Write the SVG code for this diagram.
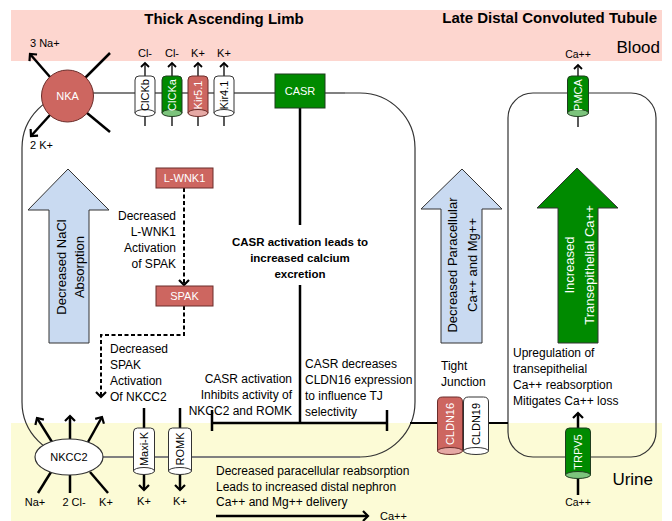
<svg xmlns="http://www.w3.org/2000/svg" width="672" height="521" viewBox="0 0 672 521">
<style>
text{font-family:"Liberation Sans",Arial,sans-serif;font-size:11px;fill:#000}
.body{font-size:12px}
.b{font-weight:bold;font-size:11.5px}
.w{fill:#fff}
.title{font-size:15px;font-weight:bold}
.big{font-size:17px}
.arrtxt{font-size:13px}
.cell{fill:none;stroke:#333;stroke-width:1.2}
.mem{stroke:#808080;stroke-width:1.8;fill:none}
.thk{stroke:#000;stroke-width:2.5;fill:none}
.thn{stroke:#000;stroke-width:1.3;fill:none}
.dash{stroke:#000;stroke-width:2;fill:none;stroke-dasharray:4 2.5}
.red{fill:#cd6660;stroke:#6b2d2a;stroke-width:1}
.grn{fill:#008a00;stroke:#1f3d1f;stroke-width:1}
.wht{fill:#fff;stroke:#333;stroke-width:1}
.redl{fill:#e6a9a5;stroke:#6b2d2a;stroke-width:1}
.grnl{fill:#7cc47c;stroke:#1f3d1f;stroke-width:1}
.blue{fill:#c9daf1;stroke:#333;stroke-width:1}
.garr{fill:#008a00;stroke:#333;stroke-width:1}
</style>
<defs>
<marker id="ah" viewBox="-7 -7 9 14" markerWidth="9" markerHeight="14" refX="0" refY="0" orient="auto" markerUnits="userSpaceOnUse">
<path d="M-5,-5 L0,0 L-5,5" fill="none" stroke="#000" stroke-width="2.2"/>
</marker>
<marker id="ahs" viewBox="-6 -6 8 12" markerWidth="8" markerHeight="12" refX="0" refY="0" orient="auto" markerUnits="userSpaceOnUse">
<path d="M-4,-4 L0,0 L-4,4" fill="none" stroke="#000" stroke-width="1.8"/>
</marker>
</defs>

<!-- background bands -->
<rect x="11" y="10" width="651" height="51" fill="#fdd6cf"/>
<rect x="11" y="423" width="651" height="98" fill="#fcfbd6"/>
<text class="title" x="224" y="24" text-anchor="middle">Thick Ascending Limb</text>
<text class="title" x="657" y="23" text-anchor="end">Late Distal Convoluted Tubule</text>
<text class="big" x="660" y="53" text-anchor="end">Blood</text>
<text class="big" x="653" y="485" text-anchor="end">Urine</text>

<!-- cells -->
<g id="tal-cell">
<rect class="cell" x="22" y="93" width="393" height="364" rx="55" ry="55"/>
<line class="mem" x1="93" y1="93" x2="345" y2="93"/>
<line class="mem" x1="103" y1="457" x2="360" y2="457"/>
</g>
<g id="dct-cell">
<rect class="cell" x="508" y="93" width="148" height="364" rx="25" ry="25"/>
</g>

<!-- big arrows -->
<g id="arrow-nacl">
<polygon class="blue" points="68,169 109,210 89,210 89,343 49,343 49,210 28,210"/>
<g transform="translate(70,267) rotate(-90)">
<text class="arrtxt" x="0" y="-4" text-anchor="middle">Decreased NaCl</text>
<text class="arrtxt" x="0" y="14" text-anchor="middle">Absorption</text>
</g>
</g>
<g id="arrow-paracellular">
<polygon class="blue" points="462,169 502,209 482,209 482,343 441,343 441,209 421,209"/>
<g transform="translate(462,265) rotate(-90)">
<text class="arrtxt" x="0" y="-5" text-anchor="middle">Decreased Paracellular</text>
<text class="arrtxt" x="0" y="15" text-anchor="middle">Ca++ and Mg++</text>
</g>
</g>
<g id="arrow-transepithelial">
<polygon class="garr" points="577,168 618,208 598,208 598,343 558,343 558,208 537,208"/>
<g transform="translate(579,265) rotate(-90)">
<text class="arrtxt w" x="0" y="-5" text-anchor="middle">Increased</text>
<text class="arrtxt w" x="0" y="15" text-anchor="middle">Transepithelial Ca++</text>
</g>
</g>

<!-- connectors -->
<g id="connectors">
<!-- NKA -->
<line class="thk" x1="50" y1="77" x2="30" y2="54" marker-end="url(#ah)"/>
<line class="thk" x1="85" y1="78" x2="110" y2="53"/>
<line class="thk" x1="87" y1="113" x2="110" y2="132"/>
<line class="thk" x1="50" y1="115" x2="31" y2="136" marker-end="url(#ah)"/>
<!-- top channels -->
<line class="thn" x1="145" y1="76" x2="145" y2="63" marker-end="url(#ahs)"/>
<line class="thn" x1="145" y1="116" x2="145" y2="126"/>
<line class="thn" x1="172" y1="76" x2="172" y2="63" marker-end="url(#ahs)"/>
<line class="thn" x1="172" y1="116" x2="172" y2="126"/>
<line class="thn" x1="198" y1="76" x2="198" y2="63" marker-end="url(#ahs)"/>
<line class="thn" x1="198" y1="116" x2="198" y2="126"/>
<line class="thn" x1="224" y1="76" x2="224" y2="63" marker-end="url(#ahs)"/>
<line class="thn" x1="224" y1="116" x2="224" y2="126"/>
<!-- PMCA -->
<line class="thn" x1="578" y1="76" x2="578" y2="65" marker-end="url(#ahs)"/>
<line class="thn" x1="578" y1="116" x2="578" y2="127"/>
<!-- CASR -->
<line class="thk" x1="300" y1="108" x2="300" y2="225"/>
<line class="thk" x1="300" y1="285" x2="300" y2="423"/>
<line class="thk" x1="212" y1="423" x2="387" y2="423"/>
<line class="thk" x1="212" y1="410" x2="212" y2="431"/>
<line class="thk" x1="387" y1="410" x2="387" y2="431"/>
<!-- WNK1 / SPAK -->
<line class="dash" x1="184" y1="188" x2="184" y2="285" marker-end="url(#ah)"/>
<polyline class="dash" points="184,306 184,335 101,335 101,397" marker-end="url(#ah)"/>
<!-- NKCC2 -->
<line class="thk" x1="52" y1="442" x2="37" y2="418" marker-end="url(#ah)"/>
<line class="thk" x1="70" y1="439" x2="70" y2="416" marker-end="url(#ah)"/>
<line class="thk" x1="88" y1="442" x2="102" y2="417" marker-end="url(#ah)"/>
<line class="thk" x1="51" y1="472" x2="38" y2="493"/>
<line class="thk" x1="70" y1="475" x2="70" y2="493"/>
<line class="thk" x1="90" y1="472" x2="108" y2="493"/>
<!-- Maxi-K / ROMK -->
<line class="thk" x1="144" y1="408" x2="144" y2="428"/>
<line class="thk" x1="144" y1="475" x2="144" y2="490" marker-end="url(#ah)"/>
<line class="thk" x1="180" y1="408" x2="180" y2="428"/>
<line class="thk" x1="180" y1="475" x2="180" y2="490" marker-end="url(#ah)"/>
<!-- tight junction line -->
<line x1="410" y1="423" x2="438" y2="423" stroke="#000" stroke-width="2"/>
<line x1="489" y1="423" x2="508" y2="423" stroke="#000" stroke-width="2"/>
<!-- TRPV5 -->
<line class="thk" x1="578" y1="428" x2="578" y2="413" marker-end="url(#ah)"/>
<line class="thk" x1="578" y1="479" x2="578" y2="495"/>
<!-- Ca++ delivery -->
<line class="thk" x1="216" y1="516" x2="368" y2="516" marker-end="url(#ah)"/>
</g>

<!-- NKA -->
<g id="nka">
<circle cx="67.5" cy="96" r="26" class="red"/>
<text class="w" x="67.5" y="100" text-anchor="middle">NKA</text>
<text x="30" y="47">3 Na+</text>
<text x="30" y="149">2 K+</text>
</g>

<!-- top channels -->
<g id="clckb">
<path class="wht" d="M135,113 V80 Q135,76 139,76 H151 Q155,76 155,80 V113 Z"/>
<ellipse class="wht" cx="145" cy="113" rx="10" ry="3.5"/>
<text transform="translate(149,95) rotate(-90)" text-anchor="middle">ClCKb</text>
<text x="145" y="57" text-anchor="middle">Cl-</text>
</g>
<g id="clcka">
<path class="grn" d="M162,113 V80 Q162,76 166,76 H178 Q182,76 182,80 V113 Z"/>
<ellipse class="grnl" cx="172" cy="113" rx="10" ry="3.5"/>
<text class="w" transform="translate(176,95) rotate(-90)" text-anchor="middle">ClCKa</text>
<text x="172" y="57" text-anchor="middle">Cl-</text>
</g>
<g id="kir51">
<path class="red" d="M188,113 V80 Q188,76 192,76 H204 Q208,76 208,80 V113 Z"/>
<ellipse class="redl" cx="198" cy="113" rx="10" ry="3.5"/>
<text class="w" transform="translate(202,95) rotate(-90)" text-anchor="middle">Kir5.1</text>
<text x="198" y="57" text-anchor="middle">K+</text>
</g>
<g id="kir41">
<path class="wht" d="M214,113 V80 Q214,76 218,76 H230 Q234,76 234,80 V113 Z"/>
<ellipse class="wht" cx="224" cy="113" rx="10" ry="3.5"/>
<text transform="translate(228,95) rotate(-90)" text-anchor="middle">Kir4.1</text>
<text x="224" y="57" text-anchor="middle">K+</text>
</g>

<!-- CASR -->
<g id="casr">
<rect class="grn" x="275" y="74" width="50" height="34"/>
<text class="w" x="300" y="95" text-anchor="middle">CASR</text>
</g>
<g id="casr-text">
<text class="b" x="300" y="246" text-anchor="middle">CASR activation leads to</text>
<text class="b" x="300" y="262" text-anchor="middle">increased calcium</text>
<text class="b" x="300" y="278" text-anchor="middle">excretion</text>
</g>
<g id="casr-inhibits">
<text class="body" x="292" y="383" text-anchor="end">CASR activation</text>
<text class="body" x="292" y="399" text-anchor="end">Inhibits activity of</text>
<text class="body" x="292" y="415" text-anchor="end">NKCC2 and ROMK</text>
</g>
<g id="casr-cldn16">
<text class="body" x="305" y="368">CASR decreases</text>
<text class="body" x="305" y="384">CLDN16 expression</text>
<text class="body" x="305" y="400">to influence TJ</text>
<text class="body" x="305" y="416">selectivity</text>
</g>

<!-- L-WNK1 / SPAK -->
<g id="lwnk1">
<rect class="red" x="156" y="168" width="57" height="20"/>
<text class="w" x="184.5" y="182" text-anchor="middle">L-WNK1</text>
</g>
<g id="wnk-text">
<text class="body" x="176" y="220" text-anchor="end">Decreased</text>
<text class="body" x="176" y="236" text-anchor="end">L-WNK1</text>
<text class="body" x="176" y="252" text-anchor="end">Activation</text>
<text class="body" x="176" y="268" text-anchor="end">of SPAK</text>
</g>
<g id="spak">
<rect class="red" x="156" y="286" width="57" height="20"/>
<text class="w" x="184.5" y="300" text-anchor="middle">SPAK</text>
</g>
<g id="spak-text">
<text class="body" x="110" y="353">Decreased</text>
<text class="body" x="110" y="369">SPAK</text>
<text class="body" x="110" y="385">Activation</text>
<text class="body" x="110" y="401">Of NKCC2</text>
</g>

<!-- NKCC2 -->
<g id="nkcc2">
<ellipse cx="69" cy="457" rx="34" ry="18" fill="#fff" stroke="#333" stroke-width="1.2"/>
<text x="69" y="461" text-anchor="middle">NKCC2</text>
<text x="35" y="506" text-anchor="middle">Na+</text>
<text x="74" y="506" text-anchor="middle">2 Cl-</text>
<text x="106" y="506" text-anchor="middle">K+</text>
</g>

<!-- Maxi-K / ROMK -->
<g id="maxik">
<path class="wht" d="M133.5,471 V432 Q133.5,428 137.5,428 H150.5 Q154.5,428 154.5,432 V471 Z"/>
<ellipse class="wht" cx="144" cy="471" rx="10.5" ry="3.5"/>
<text transform="translate(148,449) rotate(-90)" text-anchor="middle">Maxi-K</text>
<text x="144" y="505" text-anchor="middle">K+</text>
</g>
<g id="romk">
<path class="wht" d="M168.5,471 V432 Q168.5,428 172.5,428 H187.5 Q191.5,428 191.5,432 V471 Z"/>
<ellipse class="wht" cx="180" cy="471" rx="11.5" ry="3.5"/>
<text transform="translate(184,449) rotate(-90)" text-anchor="middle">ROMK</text>
<text x="180" y="505" text-anchor="middle">K+</text>
</g>

<g id="paracellular-text">
<text class="body" x="216" y="475">Decreased paracellular reabsorption</text>
<text class="body" x="216" y="491">Leads to increased distal nephron</text>
<text class="body" x="216" y="506">Ca++ and Mg++ delivery</text>
<text x="380" y="520">Ca++</text>
</g>

<!-- Tight junction -->
<g id="tight-junction">
<text class="body" x="441" y="370">Tight</text>
<text class="body" x="441" y="386">Junction</text>
</g>
<g id="cldn16">
<path class="red" d="M437.5,451 V402 Q437.5,397 442.5,397 H457.5 Q462.5,397 462.5,402 V451 Z"/>
<ellipse class="redl" cx="450" cy="451" rx="12.5" ry="3.5"/>
<text class="w" transform="translate(454,424) rotate(-90)" text-anchor="middle">CLDN16</text>
</g>
<g id="cldn19">
<path class="wht" d="M463.5,451 V402 Q463.5,397 468.5,397 H483.5 Q488.5,397 488.5,402 V451 Z"/>
<ellipse class="wht" cx="476" cy="451" rx="12.5" ry="3.5"/>
<text transform="translate(480,424) rotate(-90)" text-anchor="middle">CLDN19</text>
</g>

<!-- PMCA -->
<g id="pmca">
<path class="grn" d="M567.5,113 V80 Q567.5,76 571.5,76 H584.5 Q588.5,76 588.5,80 V113 Z"/>
<ellipse class="grnl" cx="578" cy="113" rx="10.5" ry="3.5"/>
<text class="w" transform="translate(582,95) rotate(-90)" text-anchor="middle">PMCA</text>
<text x="578" y="58" text-anchor="middle" style="font-size:10.5px">Ca++</text>
</g>

<!-- TRPV5 -->
<g id="trpv5">
<path class="grn" d="M565.5,475 V432 Q565.5,428 569.5,428 H586.5 Q590.5,428 590.5,432 V475 Z"/>
<ellipse class="grnl" cx="578" cy="475" rx="12.5" ry="3.5"/>
<text class="w" transform="translate(582,452) rotate(-90)" text-anchor="middle">TRPV5</text>
<text x="578" y="506" text-anchor="middle" style="font-size:10.5px">Ca++</text>
</g>
<g id="dct-text">
<text class="body" x="513" y="357">Upregulation of</text>
<text class="body" x="513" y="373">transepithelial</text>
<text class="body" x="513" y="389">Ca++ reabsorption</text>
<text class="body" x="513" y="405">Mitigates Ca++ loss</text>
</g>
</svg>
